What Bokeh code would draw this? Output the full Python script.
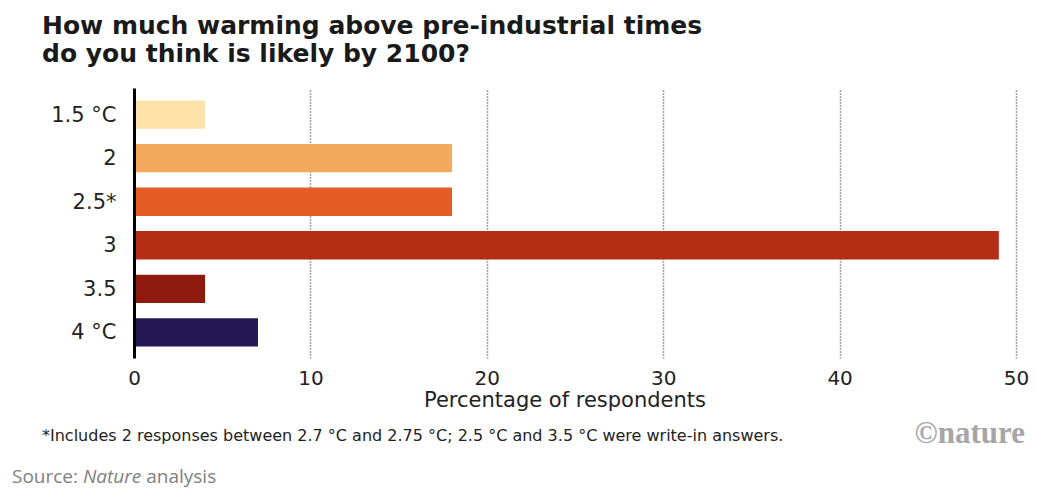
from bokeh.plotting import figure
from bokeh.models import FixedTicker, FactorRange, Div
from bokeh.layouts import column
from bokeh.embed import file_html
from bokeh.resources import INLINE

# Survey answers: expected warming by 2100 and share of respondents (%)
categories = ["1.5 °C", "2", "2.5*", "3", "3.5", "4 °C"]
percentages = [4, 18, 18, 49, 4, 7]
bar_colors = ["#fce2a8", "#f4a95c", "#e65c27", "#b52d14", "#8e1a0d", "#241653"]
x_ticks = [0, 10, 20, 30, 40, 50]

W = 1037
HEAD_H, MAIN_H, FOOT_H = 88, 300, 102
LEFT, RIGHT, BOTTOM = 134, 7, 30
PX_PER_UNIT = 17.64

# ascent of each font's baseline below the top of a line-height:1 box, in em
BASELINE_EM = {"DejaVu Sans": 0.846, "Liberation Serif": 0.838, "Open Sans": 0.888}


def span(html, left=None, right=None, baseline=0, size=16, font="DejaVu Sans",
         weight="normal", color="#222222"):
    top = baseline - BASELINE_EM[font] * size
    pos = f"left:{left}px;" if left is not None else f"right:{right}px;"
    return (f'<span style="position:absolute;{pos}top:{top:.1f}px;'
            f"font-family:'{font}';font-size:{size}px;font-weight:{weight};"
            f'line-height:1;white-space:nowrap;color:{color};">{html}</span>')


def strip(height, parts):
    body = "".join(parts)
    return Div(text=f'<div style="position:relative;width:{W}px;height:{height}px;'
                    f'overflow:hidden;background:white;">{body}</div>',
               width=W, height=height, margin=0)


# --- heading ---
head = strip(HEAD_H, [
    span("How much warming above pre-industrial times", left=42, baseline=34.5, size=25,
         weight="bold", color="#1a1a1a"),
    span("do you think is likely by 2100?", left=42, baseline=62, size=25,
         weight="bold", color="#1a1a1a"),
])

# --- bar chart ---
p = figure(
    width=W, height=MAIN_H,
    y_range=FactorRange(factors=list(reversed(categories)),
                        range_padding=0.1, range_padding_units="absolute"),
    x_range=(0, (W - LEFT - RIGHT) / PX_PER_UNIT),
    output_backend="svg", toolbar_location=None,
    min_border_left=LEFT, min_border_right=RIGHT,
    min_border_top=0, min_border_bottom=BOTTOM,
)
p.outline_line_color = None

p.hbar(y=categories, right=percentages, left=0, height=0.65,
       fill_color=bar_colors, line_color=None)

p.xaxis.ticker = FixedTicker(ticks=x_ticks)
p.xaxis.axis_line_color = None
p.xaxis.major_tick_line_color = None
p.xaxis.minor_tick_line_color = None
p.xaxis.major_label_text_font = "DejaVu Sans"
p.xaxis.major_label_text_font_size = "20px"
p.xaxis.major_label_text_color = "#222222"
p.xaxis.major_label_standoff = 6
p.xgrid.ticker = FixedTicker(ticks=x_ticks)
p.xgrid.grid_line_color = "#444444"
p.xgrid.grid_line_dash = "1 2"
p.xgrid.grid_line_width = 1.5
p.ygrid.grid_line_color = None

p.yaxis.axis_line_color = "black"
p.yaxis.axis_line_width = 3
p.yaxis.major_tick_line_color = None
p.yaxis.minor_tick_line_color = None
p.yaxis.major_label_text_font = "DejaVu Sans"
p.yaxis.major_label_text_font_size = "21px"
p.yaxis.major_label_text_color = "#222222"
p.yaxis.major_label_standoff = 12

# --- axis title, note and source ---
foot = strip(FOOT_H, [
    f'<div style="position:absolute;left:0;width:{2 * 565}px;top:{20 - 0.846 * 21:.1f}px;'
    "text-align:center;font-family:'DejaVu Sans';font-size:21px;line-height:1;"
    'color:#222222;">Percentage of respondents</div>',
    span("*Includes 2 responses between 2.7 °C and 2.75 °C; 2.5 °C and 3.5 °C were write-in answers.",
         left=42, baseline=53.5, size=16),
    span("©nature", right=W - 1025, baseline=54.5, size=31, font="Liberation Serif",
         weight="bold", color="#a6a6a6"),
    span("Source: <i>Nature</i> analysis", left=12, baseline=95.5, size=19, font="Open Sans",
         color="#808080"),
])

layout = column(head, p, foot, spacing=0)
open("out.html", "w").write(file_html(layout, INLINE))
